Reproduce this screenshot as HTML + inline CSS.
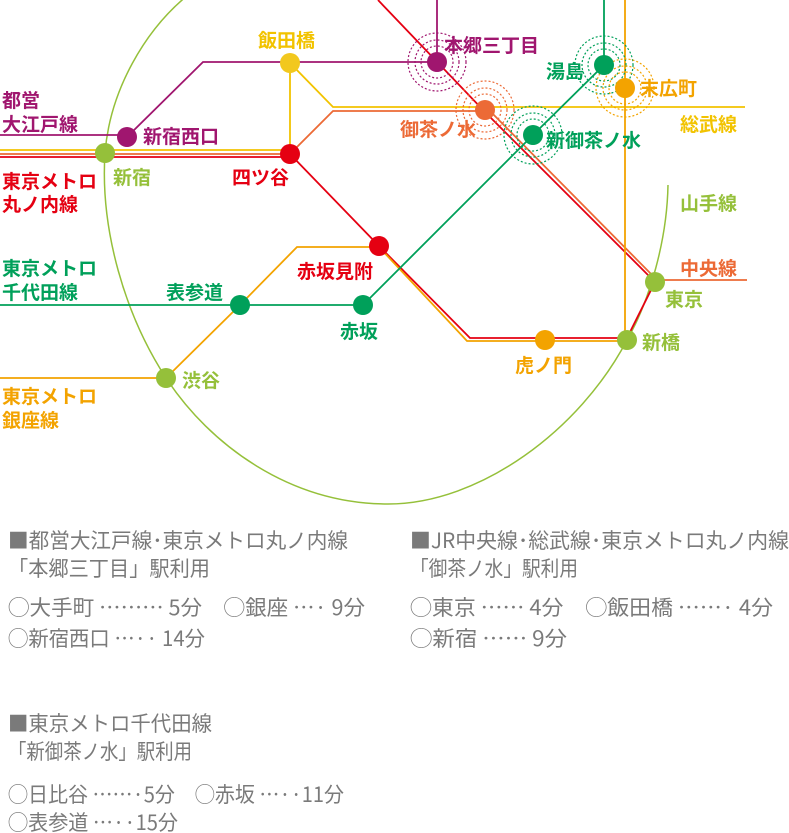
<!DOCTYPE html>
<html><head><meta charset="utf-8"><style>
html,body{margin:0;padding:0;background:#fff;}
svg{display:block;}
.l{font-family:"Liberation Sans","Noto Sans CJK JP",sans-serif;font-weight:bold;font-size:19px;}
.t{font-family:"Noto Sans CJK JP","Liberation Sans",sans-serif;font-size:21px;fill:#7a7a7a;}
</style></head><body>
<svg width="789" height="833" viewBox="0 0 789 833" xmlns="http://www.w3.org/2000/svg">
<path d="M668,185 C667,240 650,300 627,340 C580,430 480,504 388,504 C290,504 210,445 166,378 C125,315 100,230 105,153 C110,90 145,30 188,-5" fill="none" stroke="#95c03a" stroke-width="1.5"/>
<g fill="none" stroke-width="1.8">
<polyline points="0,135 127,135" stroke="#a0166f"/>
<polyline points="127,137 203,62 437,62" stroke="#a0166f"/>
<polyline points="437,0 437,62" stroke="#a0166f"/>
<polyline points="0,150 290,150" stroke="#f2c300"/>
<polyline points="290,154 290,63 333,107 745,107" stroke="#f2c300"/>
<polyline points="0,154 290,154 333,111 485,111" stroke="#ec6a36"/>
<polyline points="485,110 655,282 745,282" stroke="#ec6a36" transform="translate(2,-2)"/>
<polyline points="0,157 290,157" stroke="#e50012"/>
<polyline points="290,154 379,246 470,338 627,338 655,282 485,112 378,0" stroke="#e50012"/>
<polyline points="0,378 166,378 240,305 297,247 379,247 467,341 627,341" stroke="#f3a300"/>
<polyline points="625,0 625,340" stroke="#f3a300"/>
<polyline points="0,305 363,305 533,135 604,65 604,0" stroke="#00a05a"/>
</g>
<g fill="none" stroke-width="1.2" stroke-dasharray="2,2">
<g stroke="#a0166f"><circle cx="437" cy="62" r="16"/><circle cx="437" cy="62" r="22"/><circle cx="437" cy="62" r="29"/></g>
<g stroke="#ec6a36"><circle cx="485" cy="110" r="16"/><circle cx="485" cy="110" r="22"/><circle cx="485" cy="110" r="29"/></g>
<g stroke="#00a05a"><circle cx="533" cy="135" r="16"/><circle cx="533" cy="135" r="22"/><circle cx="533" cy="135" r="29"/></g>
<g stroke="#00a05a"><circle cx="604" cy="65" r="16"/><circle cx="604" cy="65" r="22"/><circle cx="604" cy="65" r="29"/></g>
<g stroke="#f3a300"><circle cx="625" cy="88" r="16"/><circle cx="625" cy="88" r="22"/><circle cx="625" cy="88" r="29"/></g>
</g>
<circle cx="127" cy="137" r="10" fill="#a0166f"/>
<circle cx="105" cy="153" r="10" fill="#95c03a"/>
<circle cx="290" cy="63" r="10" fill="#f2c81e"/>
<circle cx="290" cy="154" r="10" fill="#e50012"/>
<circle cx="437" cy="62" r="10" fill="#a0166f"/>
<circle cx="485" cy="110" r="10" fill="#ec6a36"/>
<circle cx="533" cy="135" r="10" fill="#00a05a"/>
<circle cx="604" cy="65" r="10" fill="#00a05a"/>
<circle cx="625" cy="88" r="10" fill="#f3a300"/>
<circle cx="379" cy="246" r="10" fill="#e50012"/>
<circle cx="240" cy="305" r="10" fill="#00a05a"/>
<circle cx="363" cy="305" r="10" fill="#00a05a"/>
<circle cx="166" cy="378" r="10" fill="#95c03a"/>
<circle cx="545" cy="340" r="10" fill="#f3a300"/>
<circle cx="627" cy="340" r="10" fill="#95c03a"/>
<circle cx="655" cy="282" r="10" fill="#95c03a"/>
<g class="l">
<text x="2" y="107" fill="#a0166f">都営</text>
<text x="2" y="131" fill="#a0166f">大江戸線</text>
<text x="143" y="143" fill="#a0166f">新宿西口</text>
<text x="258" y="47" fill="#f2c300">飯田橋</text>
<text x="113" y="184" fill="#95c03a">新宿</text>
<text x="232" y="184" fill="#e50012">四ツ谷</text>
<text x="2" y="188" fill="#e50012">東京メトロ</text>
<text x="2" y="211" fill="#e50012">丸ノ内線</text>
<text x="444" y="52" fill="#a0166f">本郷三丁目</text>
<text x="546" y="78" fill="#00a05a">湯島</text>
<text x="640" y="95" fill="#f3a300">末広町</text>
<text x="400" y="136" fill="#ec6a36">御茶ノ水</text>
<text x="546" y="147" fill="#00a05a">新御茶ノ水</text>
<text x="680" y="131" fill="#f2c300">総武線</text>
<text x="680" y="210" fill="#95c03a">山手線</text>
<text x="680" y="275" fill="#ec6a36">中央線</text>
<text x="665" y="306" fill="#95c03a">東京</text>
<text x="642" y="349" fill="#95c03a">新橋</text>
<text x="515" y="372" fill="#f3a300">虎ノ門</text>
<text x="297" y="278" fill="#e50012">赤坂見附</text>
<text x="340" y="338" fill="#00a05a">赤坂</text>
<text x="166" y="299" fill="#00a05a">表参道</text>
<text x="2" y="275" fill="#00a05a">東京メトロ</text>
<text x="2" y="299" fill="#00a05a">千代田線</text>
<text x="182" y="387" fill="#95c03a">渋谷</text>
<text x="2" y="403" fill="#f3a300">東京メトロ</text>
<text x="2" y="427" fill="#f3a300">銀座線</text>
</g>
<g class="t">
<text x="8" y="548" textLength="340" lengthAdjust="spacingAndGlyphs">■都営大江戸線･東京メトロ丸ノ内線</text>
<text x="8" y="576" textLength="202" lengthAdjust="spacingAndGlyphs">「本郷三丁目」駅利用</text>
<text x="8" y="615" textLength="357" lengthAdjust="spacingAndGlyphs">◯大手町 ……… 5分　◯銀座 …· 9分</text>
<text x="8" y="646" textLength="197" lengthAdjust="spacingAndGlyphs">◯新宿西口 …·· 14分</text>
<text x="410" y="548" textLength="379" lengthAdjust="spacingAndGlyphs">■JR中央線･総武線･東京メトロ丸ノ内線</text>
<text x="410" y="576" textLength="168" lengthAdjust="spacingAndGlyphs">「御茶ノ水」駅利用</text>
<text x="410" y="615" textLength="363" lengthAdjust="spacingAndGlyphs">◯東京 …… 4分　◯飯田橋 ……· 4分</text>
<text x="410" y="646" textLength="157" lengthAdjust="spacingAndGlyphs">◯新宿 …… 9分</text>
<text x="8" y="731" textLength="204" lengthAdjust="spacingAndGlyphs">■東京メトロ千代田線</text>
<text x="8" y="759" textLength="184" lengthAdjust="spacingAndGlyphs">「新御茶ノ水」駅利用</text>
<text x="8" y="802" textLength="336" lengthAdjust="spacingAndGlyphs">◯日比谷 ……·5分　◯赤坂 …··11分</text>
<text x="8" y="830" textLength="170" lengthAdjust="spacingAndGlyphs">◯表参道 …··15分</text>
</g>
</svg>
</body></html>
